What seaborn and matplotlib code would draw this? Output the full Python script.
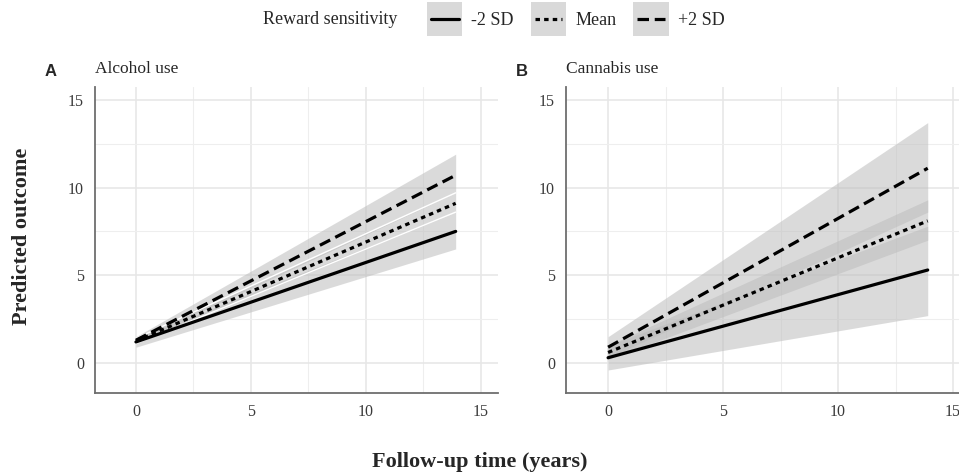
import pandas as pd
import matplotlib.pyplot as plt
import seaborn as sns
from matplotlib.lines import Line2D
from matplotlib.patches import Patch
from matplotlib.legend_handler import HandlerTuple, HandlerLine2D
from matplotlib.ticker import MultipleLocator

sns.set_style("white")
plt.rcParams['font.family'] = ['Liberation Serif', 'DejaVu Serif']

# Data: straight prediction lines, start (year 0) and end (year 13.9)
years = [0, 13.9]
groups = ['-2 SD', 'Mean', '+2 SD']
panels = ['Alcohol use', 'Cannabis use']
letters = ['A', 'B']

# predicted outcome at start / end, per panel and group
alcohol_fit = {'-2 SD': [1.2, 7.5], 'Mean': [1.25, 9.1], '+2 SD': [1.3, 10.7]}
alcohol_lo = {'-2 SD': [0.9, 6.5], 'Mean': [1.1, 8.6], '+2 SD': [1.2, 9.7]}
alcohol_hi = {'-2 SD': [1.4, 8.6], 'Mean': [1.4, 9.7], '+2 SD': [1.5, 11.9]}

cannabis_fit = {'-2 SD': [0.3, 5.3], 'Mean': [0.6, 8.1], '+2 SD': [0.9, 11.1]}
cannabis_lo = {'-2 SD': [-0.4, 2.7], 'Mean': [0.2, 7.0], '+2 SD': [0.3, 8.6]}
cannabis_hi = {'-2 SD': [1.0, 7.8], 'Mean': [1.0, 9.3], '+2 SD': [1.5, 13.7]}

fits = [alcohol_fit, cannabis_fit]
los = [alcohol_lo, cannabis_lo]
his = [alcohol_hi, cannabis_hi]

dash_map = {'-2 SD': '', 'Mean': (1.4, 1.3), '+2 SD': (3.6, 1.8)}
ls_map = {'-2 SD': '-', 'Mean': (0, (1.4, 1.3)), '+2 SD': (0, (3.6, 1.8))}


class InsetLine(HandlerLine2D):
    # keep the key line inside the grey key box, vertically centred
    def create_artists(self, legend, orig_handle, xdescent, ydescent,
                       width, height, fontsize, trans):
        return super().create_artists(legend, orig_handle,
                                      xdescent - 0.2 * fontsize, 2 * ydescent,
                                      width - 0.4 * fontsize, height, fontsize, trans)


fig = plt.figure(figsize=(9.59, 4.76), dpi=100)

W, H = 959, 476
axes_px = [(95, 498, -1.78, 15.74), (566, 959, -1.83, 15.26)]
edge_cols = ['white', 'none']

for i, (l, r, x0, x1) in enumerate(axes_px):
    ax = fig.add_axes([l / W, (H - 393) / H, (r - l) / W, (393 - 87) / H])

    # confidence ribbons
    for g in groups:
        ax.fill_between(years, los[i][g], his[i][g], color='#bdbdbd', alpha=0.55,
                        linewidth=0, zorder=2)
        if edge_cols[i] != 'none' and g == 'Mean':
            ax.plot(years, los[i][g], color='white', lw=1, zorder=2.5)
            ax.plot(years, his[i][g], color='white', lw=1, zorder=2.5)

    df = pd.DataFrame([(x, fits[i][g][k], g) for g in groups for k, x in enumerate(years)],
                      columns=['year', 'value', 'group'])
    sns.lineplot(data=df, x='year', y='value', style='group', style_order=groups,
                 dashes=dash_map, color='black', linewidth=2.3, ax=ax,
                 legend=False, zorder=3)

    ax.set_xlim(x0, x1)
    ax.set_ylim(-1.71, 15.73)
    ax.set_xticks([0, 5, 10, 15])
    ax.set_yticks([0, 5, 10, 15])
    ax.xaxis.set_minor_locator(MultipleLocator(2.5))
    ax.yaxis.set_minor_locator(MultipleLocator(2.5))
    ax.grid(which='major', color='#e6e6e6', linewidth=1.1, zorder=0)
    ax.grid(which='minor', color='#eeeeee', linewidth=0.8, zorder=0)
    ax.set_axisbelow(True)
    for s in ['top', 'right']:
        ax.spines[s].set_visible(False)
    for s in ['left', 'bottom']:
        ax.spines[s].set_color('#6e6e6e')
        ax.spines[s].set_linewidth(1.3)
    ax.tick_params(which='both', length=0, labelsize=11.5, labelcolor='#3a3a3a', pad=8)
    ax.set_xlabel('')
    ax.set_ylabel('')
    ax.set_title(panels[i], loc='left', fontsize=12.5, pad=10)
    fig.text((l - 50) / W, (H - 72) / H, letters[i], fontsize=12, fontweight='bold',
             family='Liberation Sans', va='center', ha='left')

fig.text(22 / W, (H - 236) / H, 'Predicted outcome', rotation=90, fontsize=16,
         fontweight='bold', ha='center', va='center')
fig.text(0.5, (H - 462) / H, 'Follow-up time (years)', fontsize=16,
         fontweight='bold', ha='center', va='center')

# legend
fig.text(263 / W, (H - 20) / H, 'Reward sensitivity', fontsize=13, va='center', ha='left')
handles = [(Patch(facecolor='#d9d9d9', edgecolor='none'),
            Line2D([], [], color='black', lw=2.3, ls=ls_map[g])) for g in groups]
fig.legend(handles, groups,
           handler_map={tuple: HandlerTuple(ndivide=1, pad=0), Line2D: InsetLine()},
           loc='center left', bbox_to_anchor=(427 / W, (H - 19) / H), ncol=3,
           frameon=False, fontsize=13, handlelength=1.95, handleheight=2.5,
           handletextpad=0.5, columnspacing=0.95, borderpad=0, borderaxespad=0)

plt.savefig('out.png', dpi=100)
